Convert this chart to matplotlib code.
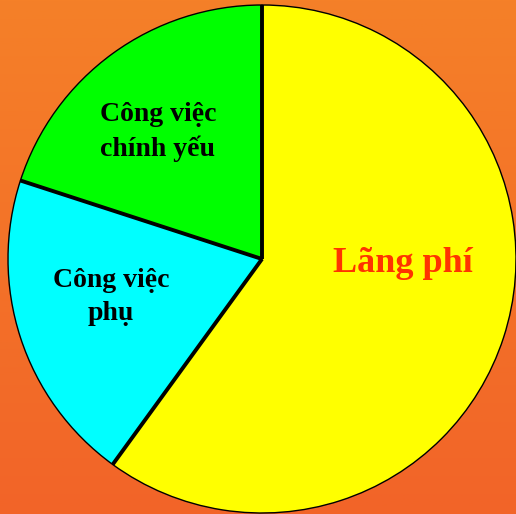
import numpy as np
import matplotlib
matplotlib.use("Agg")
import matplotlib.pyplot as plt

# Data
categories = ["Lãng phí", "Công việc\nphụ", "Công việc\nchính yếu"]
values = [60, 20, 20]
colors = ["#FFFF00", "#00FFFF", "#00FF00"]
label_colors = ["#FF3300", "#000000", "#000000"]
label_sizes = [26, 20, 20]
label_pos = [(403, 264), (111, 297), (158, 132)]  # image pixel centres

W, H = 516, 514
fig = plt.figure(figsize=(W / 100, H / 100), dpi=100)
ax = fig.add_axes([0, 0, 1, 1])

# Background gradient (orange, slightly darker at the bottom)
top = np.array([245, 128, 40]) / 255
bot = np.array([242, 100, 40]) / 255
t = np.linspace(0, 1, 256)[:, None]
grad = (top[None, :] * (1 - t) + bot[None, :] * t)[:, None, :]
ax.imshow(grad, extent=[0, W, 0, H], aspect="auto", zorder=0)

cx, cy_img, r = 262, 259, 254
cy = H - cy_img
wedges, _ = ax.pie(values, colors=colors, startangle=90, counterclock=False,
                   center=(cx, cy), radius=r,
                   wedgeprops=dict(edgecolor="black", linewidth=1.0),
                   frame=True)
for w in wedges:
    w.set_zorder(2)

# Thick radial separators
for w in wedges:
    ang = np.deg2rad(w.theta1)
    ax.plot([cx, cx + r * np.cos(ang)], [cy, cy + r * np.sin(ang)],
            color="black", lw=2.8, solid_capstyle="butt", zorder=3)

for lab, col, sz, (x, y) in zip(categories, label_colors, label_sizes, label_pos):
    ax.text(x, H - y, lab, ha="center", va="center", multialignment="center",
            color=col, fontsize=sz, fontweight="bold",
            family=["Liberation Serif", "DejaVu Serif"],
            linespacing=1.4, zorder=4)

ax.set_xlim(0, W)
ax.set_ylim(0, H)
ax.set_aspect("auto")
ax.axis("off")
fig.savefig("out.png", dpi=100)
